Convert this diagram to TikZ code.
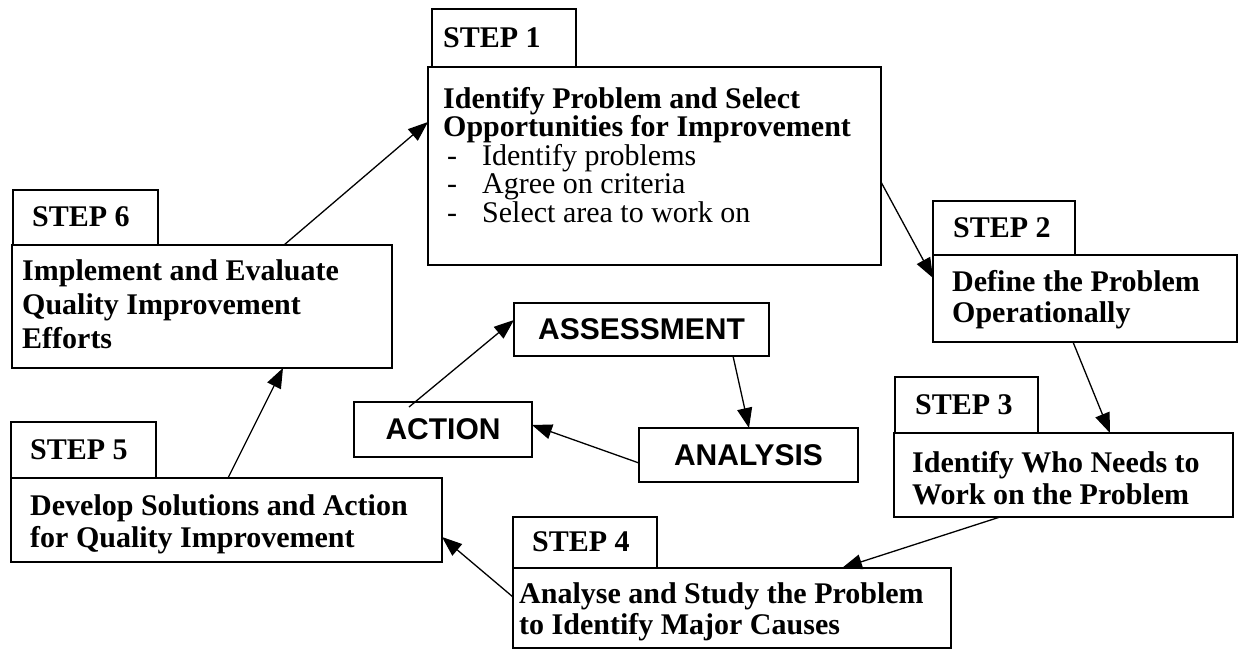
\documentclass[tikz,border=0pt]{standalone}
\usepackage{fontspec}
\setmainfont{Liberation Serif}
\newfontfamily\labelsans{Liberation Sans}
\usetikzlibrary{arrows.meta}
\begin{document}
\begin{tikzpicture}[x=1pt,y=-1pt,
  frame/.style={draw=black, line width=1.6pt, inner sep=0pt, outer sep=0pt, anchor=north west},
  tabtext/.style={anchor=west, inner sep=0pt, font=\fontsize{30}{32}\selectfont\bfseries},
  bodytext/.style={anchor=west, inner sep=0pt, align=left, font=\fontsize{30}{#1}\selectfont\bfseries},
  cycletext/.style={frame, anchor=center, font=\fontsize{30}{32}\selectfont\labelsans\bfseries},
  flow/.style={-{Triangle[length=20pt,width=15pt]}, line width=1.3pt}
]
\useasboundingbox (0,0) rectangle (1239,651);

% step tabs
\node[frame, minimum width=144pt, minimum height=58pt] (t1) at (432,9) {};
\node[frame, minimum width=142pt, minimum height=54pt] (t2) at (933,201) {};
\node[frame, minimum width=143pt, minimum height=56pt] (t3) at (895,377) {};
\node[frame, minimum width=144pt, minimum height=51pt] (t4) at (513,517) {};
\node[frame, minimum width=145pt, minimum height=56pt] (t5) at (11,422) {};
\node[frame, minimum width=145pt, minimum height=55pt] (t6) at (13,190) {};

% step bodies
\node[frame, minimum width=453pt, minimum height=198pt] (s1) at (428,67) {};
\node[frame, minimum width=304pt, minimum height=87pt] (s2) at (933,255) {};
\node[frame, minimum width=339pt, minimum height=84pt] (s3) at (894,433) {};
\node[frame, minimum width=438pt, minimum height=80pt] (s4) at (513,568) {};
\node[frame, minimum width=431pt, minimum height=84pt] (s5) at (11,478) {};
\node[frame, minimum width=380pt, minimum height=123pt] (s6) at (12,245) {};

% tab labels
\node[tabtext] (l1) at (443,38) {STEP 1};
\node[tabtext] (l2) at (953,228) {STEP 2};
\node[tabtext] (l3) at (915,405) {STEP 3};
\node[tabtext] (l4) at (532,542) {STEP 4};
\node[tabtext] (l5) at (30,450) {STEP 5};
\node[tabtext] (l6) at (32,217) {STEP 6};

% body texts
\node[bodytext=28.5] (b1) at (443,155) {Identify Problem and Select\\
  Opportunities for Improvement\\
  \mdseries\hspace*{4pt}\makebox[35pt][l]{-}Identify problems\\
  \mdseries\hspace*{4pt}\makebox[35pt][l]{-}Agree on criteria\\
  \mdseries\hspace*{4pt}\makebox[35pt][l]{-}Select area to work on};
\node[bodytext=31] (b2) at (952,300) {Define the Problem\\Operationally};
\node[bodytext=32] (b3) at (912,478) {Identify Who Needs to\\Work on the Problem};
\node[bodytext=31] (b4) at (519,612) {Analyse and Study the Problem\\to Identify Major Causes};
\node[bodytext=32] (b5) at (30,524) {Develop Solutions and Action\\for Quality Improvement};
\node[bodytext=34] (b6) at (22,304) {Implement and Evaluate\\Quality Improvement\\Efforts};

% inner cycle
\node[cycletext, minimum width=255pt, minimum height=53pt] (as) at (641.5,329.5) {ASSESSMENT};
\node[cycletext, minimum width=219pt, minimum height=54pt] (an) at (748.5,455) {ANALYSIS};
\node[cycletext, minimum width=178pt, minimum height=55pt] (ac) at (443,429.5) {ACTION};

% step connectors
\draw[flow] ([xshift=272pt]s6.north west) -- ([yshift=-55pt]s1.north west);
\draw[flow] ([yshift=-115pt]s1.north east) -- ([yshift=-23pt]s2.north west);
\draw[flow] ([xshift=140pt]s2.south west) -- ([xshift=216pt]s3.north west);
\draw[flow] ([xshift=106pt]s3.south west) -- ([xshift=329pt]s4.north west);
\draw[flow] ([yshift=-29pt]s4.north west) -- ([yshift=-59pt]s5.north east);
\draw[flow] ([xshift=217pt]s5.north west) -- ([xshift=271pt]s6.south west);

% cycle connectors
\draw[flow] ([xshift=55pt,yshift=-5pt]ac.north west) -- ([yshift=-17pt]as.north west);
\draw[flow] ([xshift=219pt]as.south west) -- ([xshift=110pt]an.north west);
\draw[flow] ([yshift=-35pt]an.north west) -- ([yshift=-23pt]ac.north east);
\end{tikzpicture}
\end{document}
